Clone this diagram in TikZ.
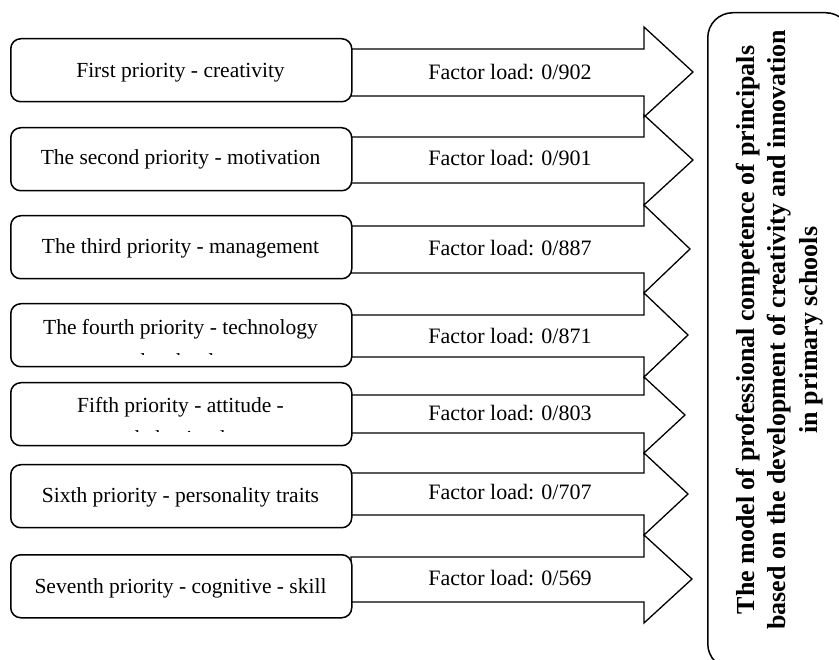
\documentclass[tikz,border=0pt]{standalone}
\usepackage{fontspec}
\setmainfont{Liberation Serif}
\newcommand\blockarrow[5]{% body top, body bottom, head top, head bottom, tip x
  \draw[arr] (351,#1) -- (644,#1) -- (644,#3) -- (#5,{(#3+#4)/2}) -- (644,#4) -- (644,#2) -- (351,#2) -- cycle;}
\begin{document}
\begin{tikzpicture}[x=1pt,y=-1pt,
  prio/.style={draw, line width=1.5pt, rounded corners=10pt, fill=white,
    minimum width=341pt, minimum height=63pt, anchor=north west, inner sep=0pt},
  arr/.style={draw, line width=1.3pt, fill=white, line join=miter},
  ptext/.style={font=\fontsize{21.5}{28}\selectfont, inner sep=0pt, anchor=base},
  ftext/.style={font=\fontsize{22}{26}\selectfont, inner sep=0pt, anchor=base},
  mtext/.style={font=\bfseries\fontsize{26}{31.5}\selectfont, rotate=90, align=center, inner sep=0pt}]
\useasboundingbox (0,0) rectangle (839,660);
\begin{scope}
\clip (0,0) rectangle (839,660);
% block arrows
\blockarrow{49}{96}{27}{117}{693}
\blockarrow{137}{183}{115}{205}{693}
\blockarrow{226}{273}{205}{293}{690}
\blockarrow{315}{357}{293}{377}{688}
\blockarrow{395}{433}{377}{453}{685}
\blockarrow{473}{515}{453}{535}{688}
\blockarrow{557}{602}{535}{623}{692}
\node[ftext] (f1) at (510,80) {Factor load: 0/902};
\node[ftext] (f2) at (510,166) {Factor load: 0/901};
\node[ftext] (f3) at (510,256) {Factor load: 0/887};
\node[ftext] (f4) at (510,344) {Factor load: 0/871};
\node[ftext] (f5) at (510,421) {Factor load: 0/803};
\node[ftext] (f6) at (510,500) {Factor load: 0/707};
\node[ftext] (f7) at (510,585) {Factor load: 0/569};
% priority boxes
\node[prio] (p1) at (10,38) {};
\node[prio] (p2) at (10,127) {};
\node[prio] (p3) at (10,215) {};
\node[prio] (p4) at (10,303) {};
\node[prio] (p5) at (10,382) {};
\node[prio] (p6) at (10,464) {};
\node[prio] (p7) at (10,554) {};
\node[ptext] (t1) at (180.5,78) {First priority - creativity};
\node[ptext] (t2) at (180.5,165) {The second priority - motivation};
\node[ptext] (t3) at (180.5,254) {The third priority - management};
\node[ptext] (t4) at (180.5,335) {The fourth priority - technology};
\node[ptext] (t5) at (180.5,413) {Fifth priority - attitude -};
\node[ptext] (t6) at (180.5,503) {Sixth priority - personality traits};
\node[ptext] (t7) at (180.5,593) {Seventh priority - cognitive - skill};
\begin{scope}
\clip (12,344) rectangle (349,355);
\node[ptext] (t4b) at (180.5,369) {and technology};
\end{scope}
\begin{scope}
\clip (12,421) rectangle (349,432);
\node[ptext] (t5b) at (180.5,446) {behavioral};
\end{scope}
% model box
\node[draw, line width=1.5pt, rounded corners=25pt, minimum width=143pt, minimum height=656pt,
  anchor=north west, inner sep=0pt] (mbox) at (707,12) {};
\node[mtext] (model) at (779.5,330) {The model of professional competence of principals\\based on the development of creativity and innovation\\in primary schools};
\end{scope}
\end{tikzpicture}
\end{document}
